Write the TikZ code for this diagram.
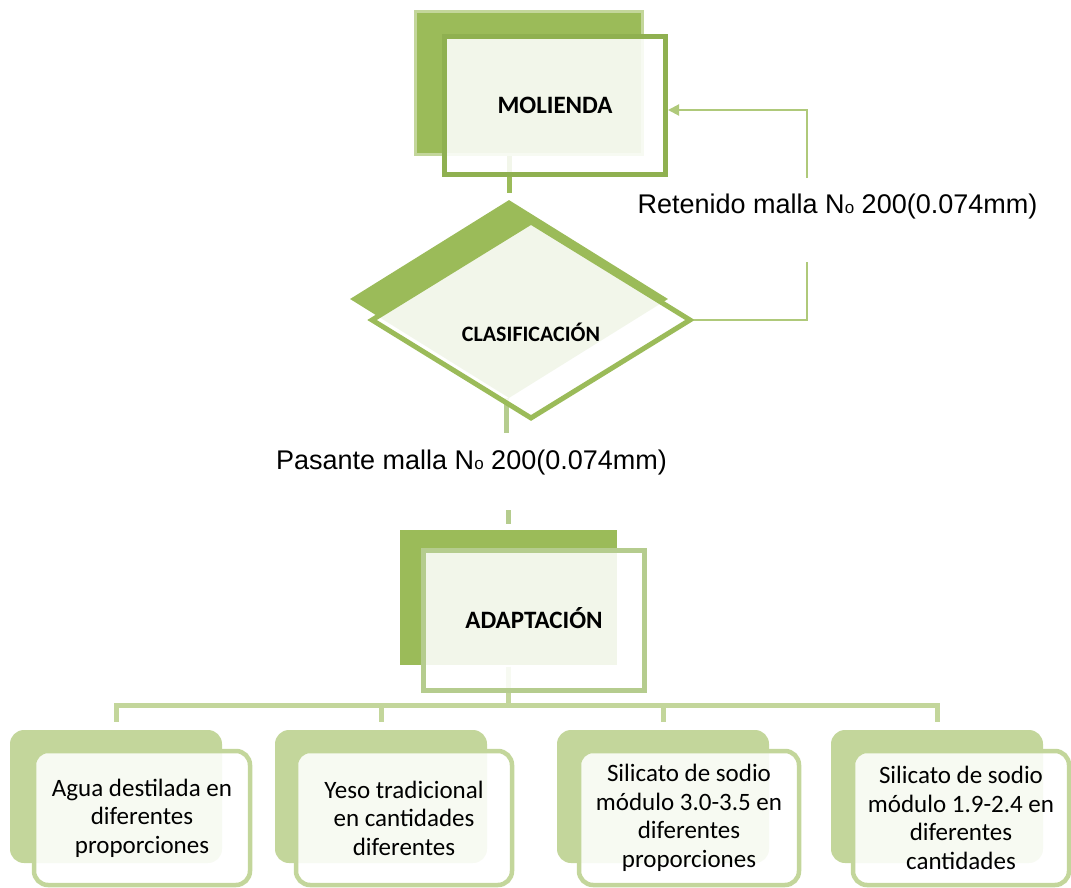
\documentclass[tikz,border=0pt]{standalone}
\usepackage{fontspec}
\setmainfont{Liberation Sans}
\newfontfamily\boxfont{Carlito}
\usetikzlibrary{shapes.geometric,arrows.meta,positioning}

\definecolor{oliva}{HTML}{9BBB59}
\definecolor{olivaoscura}{HTML}{8FB050}
\definecolor{olivamedia}{HTML}{B5CC8E}
\definecolor{olivaclara}{HTML}{C3D69B}

\newcommand{\No}{N{\fontsize{17}{17}\selectfont o}}

\begin{document}
\begin{tikzpicture}[x=1pt, y=-1pt,
    topback/.style = {fill=oliva, draw=olivaclara, line width=3pt, inner sep=0pt},
    topfront/.style = {line width=5pt, fill=white, fill opacity=.88, text opacity=1,
        inner sep=0pt, text height=16pt, text depth=0pt,
        font=\boxfont\bfseries\fontsize{25}{30}\selectfont},
    subback/.style = {fill=olivaclara, rounded corners=14pt, inner sep=0pt,
        minimum width=212pt, minimum height=133pt},
    subfront/.style = {draw=olivaclara, line width=4.5pt, rounded corners=14pt,
        fill=white, fill opacity=.88, text opacity=1, align=center,
        minimum width=216pt, minimum height=134pt, inner sep=0pt,
        font=\boxfont\fontsize{25}{28.5}\selectfont},
    stub/.style = {line width=5pt, draw=oliva},
    rama/.style = {line width=5pt, draw=olivaclara},
    retorno/.style = {line width=2pt, draw=oliva!80},
    lbl/.style = {font=\fontsize{27}{31}\selectfont, inner sep=0pt}]
    \useasboundingbox (0,0) rectangle (1071,888);

    % back shapes
    \node[topback, minimum width=227pt, minimum height=143pt] (molb) at (528.5,83.5) {};
    \node[diamond, fill=oliva, inner sep=0pt, aspect=1.6,
          minimum width=318pt, minimum height=198pt] (clab) at (509,299) {};
    \node[topback, draw=none, minimum width=217pt, minimum height=135pt] (adb) at (508.5,597.5) {};
    \node[subback] (aguab) at (116,796.5) {};
    \node[subback] (yesob) at (381,796.5) {};
    \node[subback] (sil1b) at (663,796.5) {};
    \node[subback] (sil2b) at (937,796.5) {};

    % connectors
    \coordinate (c1) at (506,433);
    \coordinate (c2) at (508.5,510);
    \coordinate (r1) at (807,262);
    \coordinate (r2) at (807,178);
    \coordinate (barra) at (508.5,705);
    \draw[stub, shorten >=7pt] (clab.north |- molb.south) -- (clab.north);
    \draw[stub, draw=olivamedia] (c1 |- clab.south) -- (c1);
    \draw[stub, draw=olivamedia, shorten >=5pt] (c2) -- (adb.north);
    \draw[rama] (adb.south) -- (barra);
    \draw[rama, shorten <=8pt, shorten >=8pt] (aguab.north) |- (barra) -| (sil2b.north);
    \draw[rama, shorten >=8pt] (yesob.north |- barra) -- (yesob.north);
    \draw[rama, shorten >=8pt] (sil1b.north |- barra) -- (sil1b.north);

    % front shapes
    \node[topfront, draw=olivaoscura, minimum width=221pt, minimum height=138pt] (mol) at (555,105.5) {MOLIENDA};
    \node[diamond, draw=oliva, line width=5pt, fill=white, fill opacity=.88, text opacity=1,
          aspect=1.6, inner sep=0pt, minimum width=320pt, minimum height=198pt,
          text height=43pt, text depth=0pt,
          font=\boxfont\bfseries\fontsize{22}{26}\selectfont] (cla) at (531,320) {CLASIFICACIÓN};
    \node[topfront, draw=olivamedia, minimum width=221pt, minimum height=140pt] (ad) at (534,620.5) {ADAPTACIÓN};
    \node[subfront] (agua) at (142,818) {Agua destilada en\\diferentes\\proporciones};
    \node[subfront] (yeso) at (404,818) {Yeso tradicional\\en cantidades\\diferentes};
    \node[subfront, minimum width=220pt] (sil1) at (689,818) {Silicato de sodio\\módulo 3.0-3.5 en\\diferentes\\proporciones};
    \node[subfront] (sil2) at (961,818) {Silicato de sodio\\módulo 1.9-2.4 en\\diferentes\\cantidades};

    % return loop
    \draw[retorno] (cla.east) -| (r1);
    \draw[retorno, -{Triangle[length=11pt, width=11pt]}] (r2) |- ([yshift=-4.5pt]mol.east);

    % labels
    \node[lbl] (ret) at (837.5,207) {Retenido malla \No{} 200(0.074mm)};
    \node[lbl] (pas) at (471.5,463) {Pasante malla \No{} 200(0.074mm)};
\end{tikzpicture}
\end{document}
